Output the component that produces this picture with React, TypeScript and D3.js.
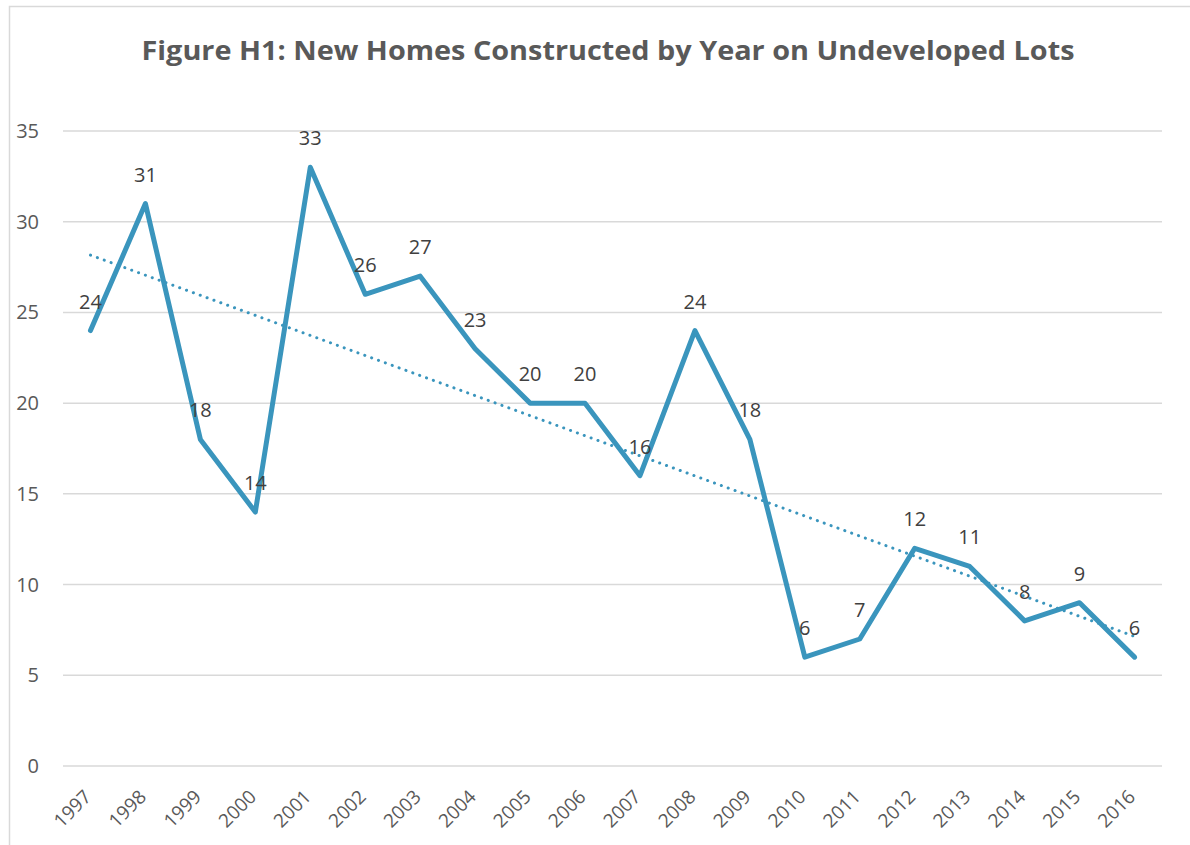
import React from "react";
import * as d3 from "d3";

const years = ["1997","1998","1999","2000","2001","2002","2003","2004","2005","2006","2007","2008","2009","2010","2011","2012","2013","2014","2015","2016"];
const homes = [24,31,18,14,33,26,27,23,20,20,16,24,18,6,7,12,11,8,9,6];
const yTicks = [0,5,10,15,20,25,30,35];
const title = "Figure H1: New Homes Constructed by Year on Undeveloped Lots";

const W = 1190, H = 845;
const left = 63, right = 1162, top = 131, bottom = 766;
const lineColor = "#3A95BD";
const font = "'Open Sans', 'Liberation Sans', sans-serif";

export default function App() {
  const x = d3.scaleBand<string>().domain(years).range([left, right]);
  const cx = (i: number) => (x(years[i]) as number) + x.bandwidth() / 2;
  const y = d3.scaleLinear().domain([0, 35]).range([bottom, top]);

  const line = d3.line<number>().x((_, i) => cx(i)).y((d) => y(d));

  // linear trend from the data
  const n = homes.length;
  const idx = d3.range(n);
  const mx = d3.mean(idx) as number;
  const my = d3.mean(homes) as number;
  const slope = d3.sum(idx, (i) => (i - mx) * (homes[i] - my)) / d3.sum(idx, (i) => (i - mx) ** 2);
  const icpt = my - slope * mx;
  const t0 = icpt, t1 = icpt + slope * (n - 1);

  return (
    <svg width={W} height={H} style={{ position: "absolute", left: 0, top: 0, background: "#fff" }}>
      <rect x={9.5} y={6.5} width={1300} height={1000} fill="#fff" stroke="#d9d9d9" strokeWidth={1.5} />
      <text x={608} y={60} textAnchor="middle" fontFamily={font} fontWeight="bold" fontSize={27} fill="#595959" textLength={933} lengthAdjust="spacingAndGlyphs">{title}</text>
      {yTicks.map((t) => (
        <g key={t}>
          <line x1={left} x2={right} y1={y(t)} y2={y(t)} stroke="#d9d9d9" strokeWidth={1.5} />
          <text x={39} y={y(t) + 7} textAnchor="end" fontFamily={font} fontSize={20} fill="#595959">{t}</text>
        </g>
      ))}
      {years.map((yr, i) => (
        <text key={yr} transform={`translate(${cx(i) + 2},${798}) rotate(-45)`} textAnchor="end" fontFamily={font} fontSize={19} fill="#595959">{yr}</text>
      ))}
      <path d={line(homes) as string} fill="none" stroke={lineColor} strokeWidth={5} strokeLinejoin="round" strokeLinecap="round" />
      <line x1={cx(0)} x2={cx(n - 1)} y1={y(t0)} y2={y(t1)} stroke={lineColor} strokeWidth={3} strokeDasharray="0.1 7.2" strokeLinecap="round" />
      {homes.map((v, i) => (
        <text key={i} x={cx(i)} y={y(v) - 22} textAnchor="middle" fontFamily={font} fontSize={20} fill="#404040">{v}</text>
      ))}
    </svg>
  );
}
